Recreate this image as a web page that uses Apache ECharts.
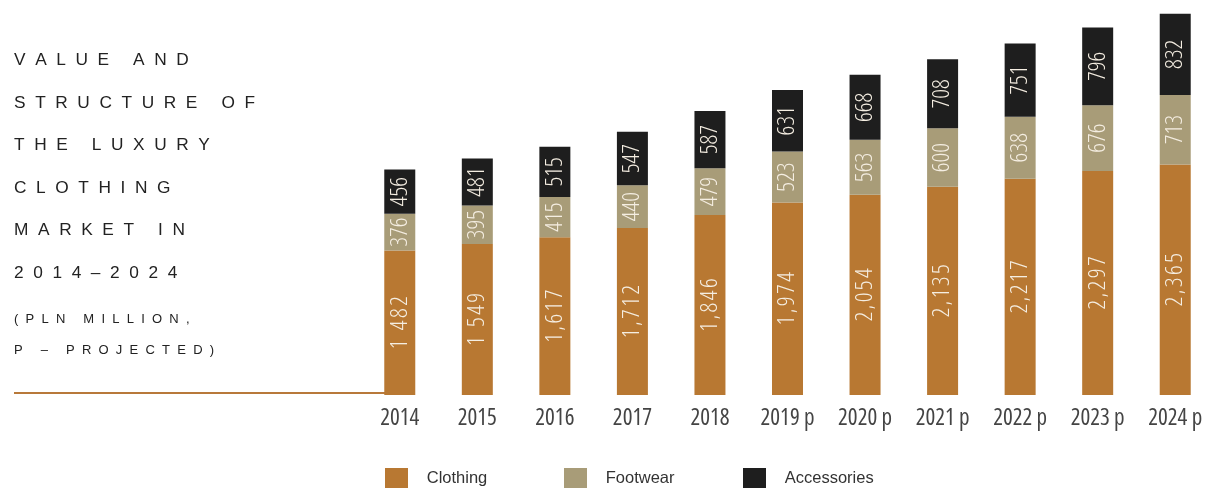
<!DOCTYPE html>
<html>
<head>
<meta charset="utf-8">
<script src="https://cdn.jsdelivr.net/npm/echarts@6/dist/echarts.min.js"></script>
<style>
  html, body { margin: 0; padding: 0; background: #fff; }
  #chart { width: 1214px; height: 488px; }
</style>
</head>
<body>
<div id="chart"></div>
<script>
// Luxury clothing market in Poland, PLN million (p = projected)
const years = ['2014', '2015', '2016', '2017', '2018', '2019 p', '2020 p', '2021 p', '2022 p', '2023 p', '2024 p'];
const clothing = [1482, 1549, 1617, 1712, 1846, 1974, 2054, 2135, 2217, 2297, 2365];
const footwear = [376, 395, 415, 440, 479, 523, 563, 600, 638, 676, 713];
const accessories = [456, 481, 515, 547, 587, 631, 668, 708, 751, 796, 832];
// thousands separator printed in each clothing label
const thousandsSep = [' ', ' ', ',', ',', ',', ',', ',', ',', ',', ',', ','];

const titleLines = ['VALUE AND', 'STRUCTURE OF', 'THE LUXURY', 'CLOTHING', 'MARKET IN', '2014\u20132024'];
const noteLines = ['(PLN MILLION,', 'P \u2013 PROJECTED)'];

const COLORS = { clothing: '#B87832', footwear: '#A89C78', accessories: '#1E1E1E' };

// wide tracking for the heading text
const spaced = s => s.split('').join('  ');

function fmtClothing(v, i) {
  const s = String(v);
  const t = s.slice(0, s.length - 3) + thousandsSep[i] + s.slice(-3);
  return t.split('').join('\u200A');
}

const chart = echarts.init(document.getElementById('chart'), null, { renderer: 'canvas' });

const labelBase = {
  show: true,
  position: 'inside',
  rotate: 90,
  color: '#F5EEE2',
  fontFamily: '"Open Sans", sans-serif',
  fontWeight: '300 extra-condensed',
  fontSize: 24
};

const graphics = [];
const titleY = [62, 105, 147, 190, 232, 275];
titleLines.forEach((t, i) => graphics.push({
  type: 'text', left: 14, top: titleY[i] - 10,
  style: { text: spaced(t), fill: '#222', font: '17.3px "Liberation Sans", Arial, sans-serif' }
}));
const noteY = [321, 352];
noteLines.forEach((t, i) => graphics.push({
  type: 'text', left: 14, top: noteY[i] - 8,
  style: { text: spaced(t), fill: '#222', font: '13px "Liberation Sans", Arial, sans-serif' }
}));
graphics.push({
  type: 'rect', left: 14, top: 392,
  shape: { width: 372, height: 2 },
  style: { fill: '#B8793A' }
});

const legendCommon = {
  top: 468, padding: 0, itemWidth: 23, itemHeight: 21, icon: 'rect',
  formatter: n => '   ' + n,
  textStyle: { fontFamily: '"Liberation Sans", Arial, sans-serif', fontSize: 16.5, color: '#333' }
};

chart.setOption({
  animation: false,
  backgroundColor: '#fff',
  graphic: graphics,
  legend: [
    Object.assign({ left: 385, data: ['Clothing'] }, legendCommon),
    Object.assign({ left: 564, data: ['Footwear'] }, legendCommon),
    Object.assign({ left: 743, data: ['Accessories'] }, legendCommon)
  ],
  grid: { left: 361, top: 5, width: 869, height: 390, containLabel: false },
  xAxis: {
    type: 'category',
    data: years,
    axisLine: { show: false },
    axisTick: { show: false },
    axisLabel: {
      margin: 12, color: '#444', interval: 0,
      fontFamily: '"Open Sans", sans-serif', fontWeight: '400 extra-condensed', fontSize: 23
    }
  },
  yAxis: {
    type: 'value', min: 0, max: 4000,
    show: false,
    splitLine: { show: false }
  },
  series: [
    {
      name: 'Clothing', type: 'bar', stack: 'total', barWidth: 31,
      data: clothing, itemStyle: { color: COLORS.clothing },
      label: Object.assign({}, labelBase, { formatter: p => fmtClothing(p.value, p.dataIndex) })
    },
    {
      name: 'Footwear', type: 'bar', stack: 'total', barWidth: 31,
      data: footwear, itemStyle: { color: COLORS.footwear },
      label: Object.assign({}, labelBase, { formatter: p => String(p.value) })
    },
    {
      name: 'Accessories', type: 'bar', stack: 'total', barWidth: 31,
      data: accessories, itemStyle: { color: COLORS.accessories },
      label: Object.assign({}, labelBase, { formatter: p => String(p.value) })
    }
  ]
});
</script>
</body>
</html>
